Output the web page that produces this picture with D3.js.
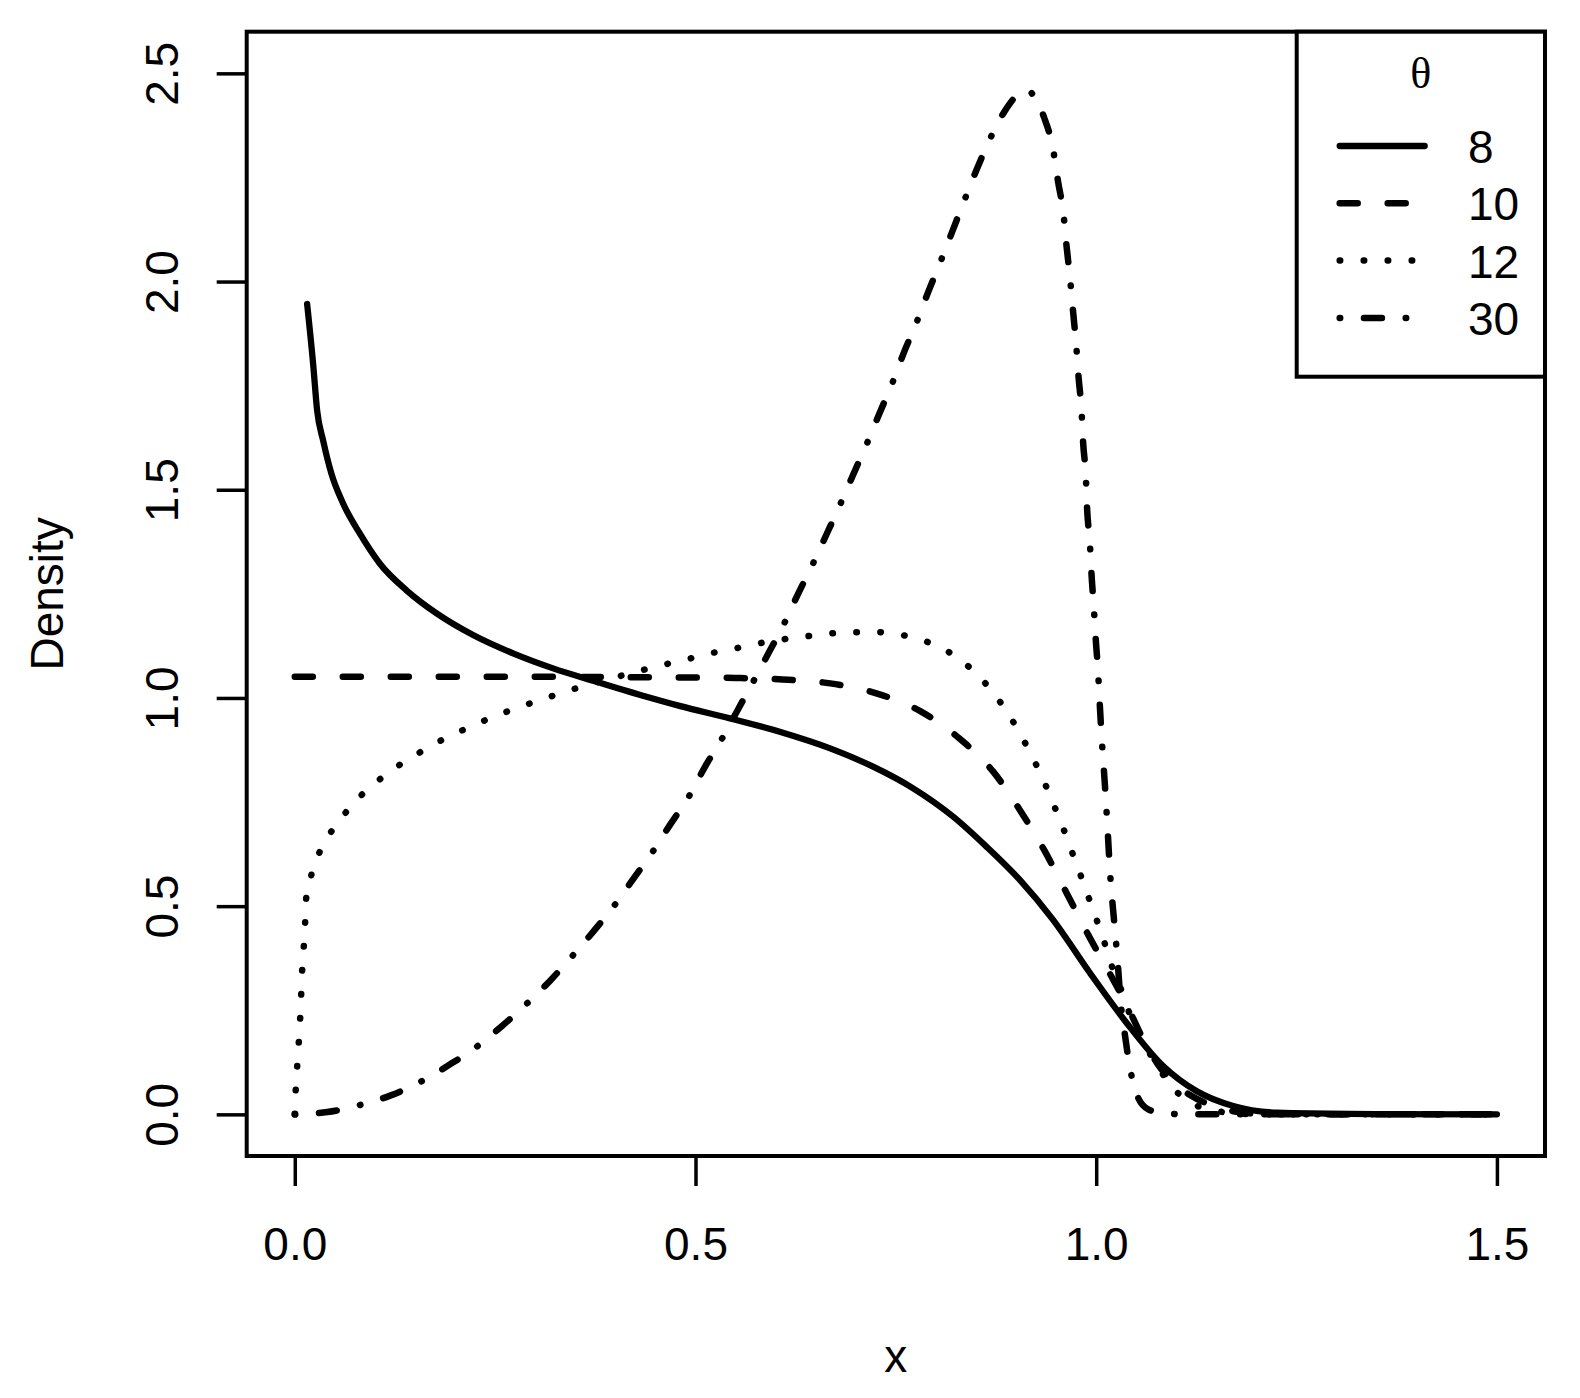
<!DOCTYPE html>
<html>
<head>
<meta charset="utf-8">
<script src="https://cdn.jsdelivr.net/npm/d3@7"></script>
<style>
    body { margin: 0; background: #fff; }
    svg { display: block; }
    text { font-family: "Liberation Sans", Arial, sans-serif; fill: #000; }
</style>
</head>
<body>
<svg width="1580" height="1398"></svg>
<script>
// tick values
const x_ticks = [0, 0.5, 1.0, 1.5]
const y_ticks = [0, 0.5, 1.0, 1.5, 2.0, 2.5]

// legend
const theta_labels = ["8", "10", "12", "30"]

// density curves, [x, density]
const density_8 = [
    [0.0154, 1.946], [0.0229, 1.802], [0.0279, 1.69], [0.0354, 1.618], [0.0458, 1.538],
    [0.0603, 1.467], [0.0811, 1.395], [0.106, 1.323], [0.139, 1.259], [0.177, 1.203],
    [0.2225, 1.151], [0.2724, 1.107], [0.3223, 1.071], [0.3764, 1.039], [0.4389, 1.003],
    [0.48, 0.981], [0.543, 0.951], [0.605, 0.919], [0.668, 0.879], [0.7216, 0.835],
    [0.7716, 0.783], [0.8215, 0.715], [0.863, 0.643], [0.9047, 0.563], [0.946, 0.4675],
    [0.992, 0.34], [1.0378, 0.22], [1.0835, 0.116], [1.125, 0.056], [1.171, 0.02],
    [1.225, 0.004], [1.316, 0.001], [1.5, 0]
]

const density_10 = [
    [0, 1.051], [0.1, 1.051], [0.2, 1.051], [0.3, 1.051], [0.4, 1.05], [0.5, 1.049],
    [0.5503, 1.048], [0.6085, 1.0446], [0.668, 1.035], [0.7257, 1.011], [0.7799, 0.969],
    [0.829, 0.903], [0.8715, 0.823], [0.9047, 0.731], [0.935, 0.635], [0.9627, 0.533],
    [0.9899, 0.4316], [1.021, 0.324], [1.04, 0.255], [1.06, 0.175], [1.08, 0.112],
    [1.1, 0.07], [1.125, 0.038], [1.15, 0.018], [1.18, 0.005], [1.22, 0], [1.5, 0]
]

const density_12 = [
    [0, 0], [0.0012, 0.06], [0.003, 0.116], [0.005, 0.173], [0.0067, 0.23], [0.008, 0.288],
    [0.0092, 0.345], [0.0112, 0.402], [0.0129, 0.46], [0.0141, 0.517], [0.0204, 0.573],
    [0.0303, 0.627], [0.0449, 0.677], [0.0628, 0.723], [0.0828, 0.766], [0.105, 0.803],
    [0.129, 0.837], [0.155, 0.868], [0.1805, 0.896], [0.2077, 0.921], [0.2346, 0.944],
    [0.2624, 0.9655], [0.2907, 0.985], [0.3186, 1.003], [0.3474, 1.021], [0.4047, 1.052],
    [0.434, 1.067], [0.463, 1.081], [0.4916, 1.094], [0.5208, 1.108], [0.55, 1.119],
    [0.579, 1.131], [0.6085, 1.1405], [0.638, 1.148], [0.668, 1.155], [0.6975, 1.158],
    [0.727, 1.158], [0.7566, 1.1515], [0.7857, 1.137], [0.8127, 1.114], [0.8373, 1.081],
    [0.8585, 1.042], [0.8776, 0.997], [0.8938, 0.951], [0.9088, 0.901], [0.9225, 0.85],
    [0.935, 0.799], [0.9462, 0.747], [0.9575, 0.694], [0.9675, 0.642], [0.978, 0.588],
    [0.9879, 0.535], [0.9979, 0.481], [1.0079, 0.4275], [1.018, 0.364], [1.031, 0.3],
    [1.039, 0.256], [1.05, 0.2], [1.065, 0.152], [1.08, 0.105], [1.0985, 0.058],
    [1.122, 0.024], [1.151, 0.008], [1.185, 0.001], [1.22, 0], [1.5, 0]
]

const density_30 = [
    [0, 0], [0.0406, 0.0055], [0.0811, 0.0223], [0.1198, 0.0456], [0.1576, 0.079],
    [0.1928, 0.119], [0.2267, 0.162], [0.2583, 0.2117], [0.2895, 0.266], [0.3186, 0.321],
    [0.346, 0.3795], [0.3727, 0.4395], [0.3985, 0.501], [0.4226, 0.566], [0.4463, 0.63],
    [0.4688, 0.697], [0.4913, 0.762], [0.5125, 0.837], [0.5333, 0.903], [0.5532, 0.973],
    [0.572, 1.039], [0.5915, 1.109], [0.6102, 1.177], [0.628, 1.25], [0.646, 1.32],
    [0.6634, 1.3925], [0.6805, 1.4644], [0.6967, 1.536], [0.7134, 1.6087], [0.7291, 1.6814],
    [0.745, 1.7533], [0.7595, 1.8269], [0.7752, 1.8986], [0.7902, 1.974], [0.8056, 2.047],
    [0.8206, 2.121], [0.8352, 2.1935], [0.8502, 2.266], [0.8668, 2.3397], [0.886, 2.4097],
    [0.9, 2.445], [0.915, 2.4593], [0.925, 2.435], [0.935, 2.394], [0.9462, 2.3175],
    [0.9525, 2.2388], [0.9592, 2.162], [0.963, 2.085], [0.9675, 2.0055], [0.9712, 1.927],
    [0.975, 1.848], [0.978, 1.77], [0.9817, 1.69], [0.9837, 1.613], [0.987, 1.5337],
    [0.9887, 1.4525], [0.992, 1.3755], [0.9941, 1.2985], [0.997, 1.2175], [0.9995, 1.139],
    [1.0024, 1.0613], [1.0045, 0.983], [1.0068, 0.9055], [1.0096, 0.827], [1.0122, 0.75],
    [1.0145, 0.675], [1.0168, 0.595], [1.0203, 0.5075], [1.0241, 0.4275], [1.0274, 0.35],
    [1.0304, 0.2716], [1.0356, 0.194], [1.0419, 0.114], [1.0523, 0.04], [1.065, 0.012],
    [1.085, 0.002], [1.12, 0], [1.5, 0]
]

const series = [
    { values: density_8, dash: null, width: 6.3 },
    { values: density_10, dash: "18 30", width: 6.5 },
    { values: density_12, dash: "0.5 23.5", width: 6.5 },
    { values: density_30, dash: "0.5 23.75 18 23.75", width: 6.5 },
]

const svg = d3.select("svg")

// plot region, R style: 4% padding on both axes
const plot = { left: 246.7, right: 1545, top: 31.7, bottom: 1156 }

const x = d3.scaleLinear().domain([-0.06, 1.56]).range([plot.left, plot.right])
const y = d3.scaleLinear().domain([-0.1, 2.6]).range([plot.bottom, plot.top])

// x axis
const x_axis = svg.append("g")
    .attr("transform", `translate(0,${plot.bottom})`)
    .call(d3.axisBottom(x).tickValues(x_ticks).tickSize(30).tickFormat(d3.format(".1f")))
x_axis.select(".domain").remove()
x_axis.selectAll("line").attr("stroke", "#000").attr("stroke-width", 3.5)
x_axis.selectAll("text")
    .attr("y", 104)
    .attr("dy", null)
    .style("font-size", "46px")
    .style("font-family", "'Liberation Sans', Arial, sans-serif")

// y axis, labels rotated like R's las = 0
const y_axis = svg.append("g")
    .attr("transform", `translate(${plot.left},0)`)
    .call(d3.axisLeft(y).tickValues(y_ticks).tickSize(30).tickFormat(d3.format(".1f")))
y_axis.select(".domain").remove()
y_axis.selectAll("line").attr("stroke", "#000").attr("stroke-width", 3.5)
y_axis.selectAll("text")
    .attr("transform", "rotate(-90)")
    .attr("x", 0)
    .attr("y", -(plot.left - 178))
    .attr("dy", null)
    .attr("text-anchor", "middle")
    .style("font-size", "46px")
    .style("font-family", "'Liberation Sans', Arial, sans-serif")

// axis titles
svg.append("text")
    .attr("x", (plot.left + plot.right) / 2)
    .attr("y", 1372)
    .attr("text-anchor", "middle")
    .style("font-size", "46px")
    .text("x")

svg.append("text")
    .attr("transform", `translate(63,${(plot.top + plot.bottom) / 2}) rotate(-90)`)
    .attr("text-anchor", "middle")
    .style("font-size", "46px")
    .text("Density")

const line = d3.line()
    .x(d => x(d[0]))
    .y(d => y(d[1]))
    .curve(d3.curveMonotoneX)

svg.append("g")
    .selectAll("path")
    .data(series)
    .enter()
    .append("path")
    .attr("d", d => line(d.values))
    .attr("fill", "none")
    .attr("stroke", "#000")
    .attr("stroke-width", d => d.width)
    .attr("stroke-linecap", "round")
    .attr("stroke-linejoin", "round")
    .attr("stroke-dasharray", d => d.dash)

// plot box
svg.append("rect")
    .attr("x", plot.left)
    .attr("y", plot.top)
    .attr("width", plot.right - plot.left)
    .attr("height", plot.bottom - plot.top)
    .attr("fill", "none")
    .attr("stroke", "#000")
    .attr("stroke-width", 4)

// legend, top right corner
const legend = { left: 1296.7, right: plot.right, top: plot.top, bottom: 376.7 }

svg.append("rect")
    .attr("x", legend.left)
    .attr("y", legend.top)
    .attr("width", legend.right - legend.left)
    .attr("height", legend.bottom - legend.top)
    .attr("fill", "#fff")
    .attr("stroke", "#000")
    .attr("stroke-width", 4)

svg.append("text")
    .attr("x", (legend.left + legend.right) / 2)
    .attr("y", 88.3)
    .attr("text-anchor", "middle")
    .style("font-size", "44px")
    .style("font-family", "'Liberation Serif', 'DejaVu Serif', serif")
    .text("θ")

const rows = svg.append("g")
    .selectAll("g")
    .data(series.map((s, i) => ({ ...s, label: theta_labels[i], i })))
    .enter()
    .append("g")
    .attr("transform", d => `translate(0,${146 + d.i * 57.3})`)

rows.append("line")
    .attr("x1", 1339.7)
    .attr("x2", 1424.7)
    .attr("stroke", "#000")
    .attr("stroke-width", d => d.width)
    .attr("stroke-linecap", "round")
    .attr("stroke-dasharray", d => d.dash)

rows.append("text")
    .attr("x", 1468)
    .attr("y", 17)
    .style("font-size", "46px")
    .text(d => d.label)
</script>
</body>
</html>
